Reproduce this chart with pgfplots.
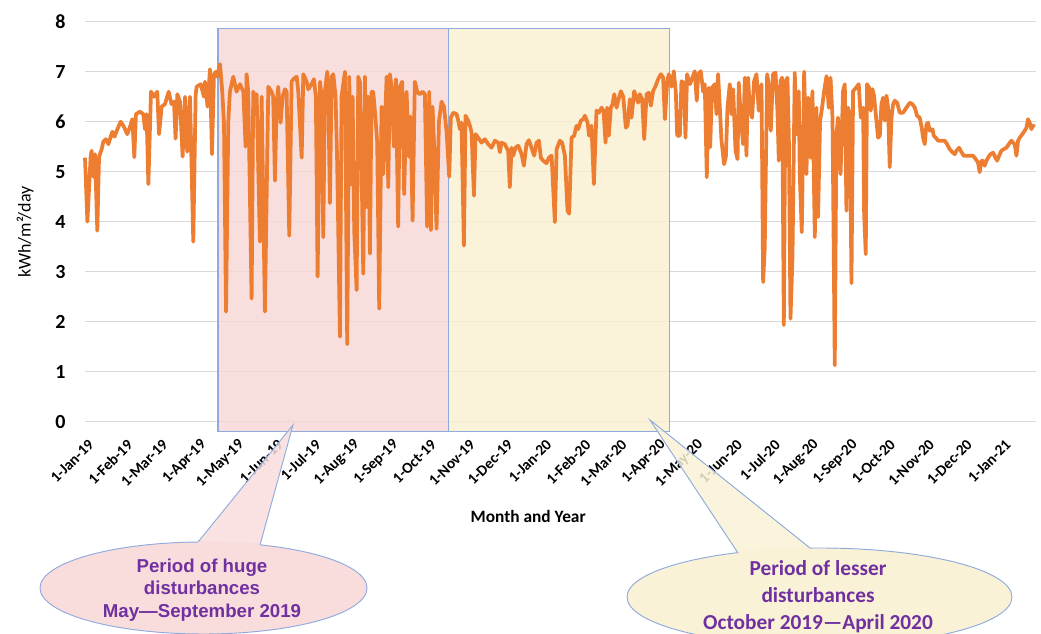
\documentclass[border=0pt]{standalone}
\usepackage{pgfplots}
\pgfplotsset{compat=1.18}
\usepackage{fontspec}
\setmainfont{Carlito}
\newfontfamily\libsans{Liberation Sans}
\definecolor{lineor}{RGB}{237,125,49}
\definecolor{pinkbox}{RGB}{248,214,214}
\definecolor{yelbox}{RGB}{249,239,208}
\definecolor{pinkell}{RGB}{249,221,221}
\definecolor{yelell}{RGB}{250,242,215}
\definecolor{boxblue}{RGB}{143,170,220}
\definecolor{purp}{RGB}{112,48,160}
\definecolor{gridg}{RGB}{217,217,217}
\begin{document}
\begin{tikzpicture}
\path[use as bounding box] (0,0) rectangle (780.75pt,475.5pt);
\begin{scope}
\clip (0,0) rectangle (780.75pt,475.5pt);
\begin{axis}[
  at={(63.75pt,159.225pt)}, anchor=south west,
  width=713.25pt, height=300pt, scale only axis,
  xmin=0, xmax=758, ymin=0, ymax=8,
  axis line style={draw=none},
  major tick length=0pt,
  ytick={0,1,2,3,4,5,6,7,8},
  xtick={0,31,59,90,120,151,181,212,243,273,304,334,365,396,425,456,486,517,547,578,609,639,670,700,731},
  xticklabels={1-Jan-19,1-Feb-19,1-Mar-19,1-Apr-19,1-May-19,1-Jun-19,1-Jul-19,1-Aug-19,1-Sep-19,1-Oct-19,1-Nov-19,1-Dec-19,1-Jan-20,1-Feb-20,1-Mar-20,1-Apr-20,1-May-20,1-Jun-20,1-Jul-20,1-Aug-20,1-Sep-20,1-Oct-20,1-Nov-20,1-Dec-20,1-Jan-21},
  ymajorgrids, grid style={gridg, line width=0.9pt},
  xticklabel style={xshift=7pt, yshift=-13pt, rotate=45, anchor=east, font=\bfseries\fontsize{11.5}{12}\selectfont},
  yticklabel style={font=\bfseries\fontsize{15}{15}\selectfont},
  /pgf/number format/assume math mode=true,
  yticklabel shift=11pt,
  clip=false,
  xlabel={Month and Year},
  ylabel={kWh/m²/day},
  xlabel style={at={(axis description cs:0.466,-0.238)}, anchor=center, font=\bfseries\fontsize{13}{13}\selectfont},
  ylabel style={at={(axis description cs:-0.063,0.474)}, anchor=center, font=\fontsize{13.5}{13.5}\selectfont},
]
\fill[pinkbox, fill opacity=0.8] (axis cs:106,-0.2) rectangle (axis cs:290,7.87);
\fill[yelbox, fill opacity=0.8] (axis cs:290,-0.2) rectangle (axis cs:466,7.87);
\draw[boxblue, line width=0.8pt] (axis cs:106,-0.2) rectangle (axis cs:290,7.87);
\draw[boxblue, line width=0.8pt] (axis cs:290,-0.2) rectangle (axis cs:466,7.87);
\addplot[lineor, line width=2.8pt, line join=round, no markers] table {
x y
0 5.28
1.9 4.0
4.5 5.3
5.3 5.42
6.6 4.9
8.0 5.35
9.8 3.82
11.2 5.3
13.3 5.45
14.6 5.6
16.7 5.65
18.6 5.55
21.8 5.8
23.6 5.7
25.8 5.85
28.4 6.0
31.0 5.9
33.7 5.75
35.9 5.9
37.7 6.05
39.3 5.29
40.6 6.15
43.8 6.2
46.5 6.15
47.8 5.85
49.1 6.15
50.5 4.75
52.6 6.6
55.0 6.5
57.6 6.6
59.0 5.75
61.1 6.3
63.7 6.35
66.7 6.6
69.0 6.35
70.9 6.4
72.2 5.66
73.6 6.55
75.7 6.4
77.8 5.3
79.7 6.5
81.5 5.4
83.7 6.5
86.3 3.6
88.2 6.55
89.0 6.7
92.2 6.75
94.8 6.5
95.6 6.8
97.7 6.3
99.6 7.05
101.2 5.35
102.8 6.95
104.4 7.0
105.4 6.9
107.6 7.15
109.4 6.6
110.8 5.95
112.4 2.2
114.2 6.0
115.5 6.6
118.2 6.9
120.8 6.6
123.5 6.75
126.2 6.6
128.0 5.5
128.8 6.95
130.1 6.6
132.8 2.46
134.1 6.6
135.5 6.5
136.8 6.55
139.4 3.6
140.8 6.5
143.4 2.2
146.1 6.7
148.7 6.6
150.0 6.5
151.4 4.82
152.7 6.3
154.0 6.7
155.9 5.98
157.5 6.5
159.4 6.65
160.7 6.6
162.8 3.72
164.7 6.8
166.0 6.85
168.7 6.9
170.0 6.6
172.7 5.28
174.0 6.95
176.6 6.8
178.0 6.65
180.6 6.75
182.5 6.85
184.0 6.5
185.4 2.9
187.3 6.8
188.6 6.5
189.9 3.69
191.2 6.6
193.1 7.0
193.9 6.6
195.2 4.37
196.6 6.9
197.9 6.95
199.7 6.5
201.0 5.19
203.2 1.7
204.5 6.5
207.2 7.0
209.0 1.55
210.6 6.9
212.0 4.75
213.3 6.5
214.6 3.8
216.5 2.63
217.8 6.9
219.1 6.8
220.5 5.0
221.8 2.96
223.1 6.9
224.5 4.29
225.7 6.5
227.1 3.36
228.4 6.6
229.7 6.6
231.1 6.2
232.9 5.6
234.5 2.26
236.4 6.3
237.7 4.95
240.4 6.9
241.7 4.69
243.0 6.95
244.4 6.7
246.2 5.5
247.8 6.85
249.6 3.9
251.0 6.7
252.8 6.8
254.4 4.55
256.3 6.6
258.2 5.3
259.5 6.1
261.1 4.02
262.9 6.8
264.8 6.6
266.9 6.55
269.1 6.6
270.9 6.55
272.7 3.9
274.4 6.6
275.7 3.83
277.0 6.3
278.3 5.5
280.2 3.86
282.1 6.0
284.2 6.4
286.1 6.3
288.2 5.8
290.3 4.9
291.6 6.08
293.5 6.18
296.2 6.15
297.5 6.02
298.8 5.85
300.1 5.98
302.0 3.52
303.3 6.12
305.4 6.02
306.8 5.92
308.1 5.79
310.0 4.52
311.3 5.75
313.4 5.68
316.1 5.58
318.7 5.65
321.4 5.55
324.0 5.48
326.7 5.62
329.3 5.58
330.7 5.39
332.0 5.58
334.7 5.55
336.0 5.48
337.3 5.42
338.6 4.69
340.0 5.48
341.3 5.32
343.2 5.48
345.3 5.52
348.0 5.35
349.8 5.12
351.9 5.55
353.8 5.63
355.9 5.48
358.0 5.32
359.9 5.58
361.8 5.62
363.3 5.28
365.2 5.22
367.9 5.17
369.7 5.28
371.9 5.32
374.5 3.99
375.9 5.45
378.5 5.62
380.3 5.58
382.5 5.32
384.6 4.22
385.9 4.16
387.8 5.68
389.9 5.72
391.8 5.92
393.1 5.85
395.2 6.02
397.1 6.05
398.4 6.12
400.6 5.98
401.8 5.72
403.7 5.92
405.6 4.75
407.7 6.22
409.6 6.18
411.7 6.28
413.3 6.22
414.9 5.58
416.2 6.28
417.5 5.72
419.1 6.28
420.5 6.35
421.8 6.55
423.7 6.28
425.0 6.42
427.1 6.61
429.0 6.5
431.1 5.88
432.4 5.92
434.3 6.45
435.6 6.08
437.7 6.61
439.6 6.48
440.9 6.38
442.2 6.55
444.1 6.45
445.7 5.65
447.6 6.55
449.4 6.58
451.0 6.32
452.8 6.61
454.7 6.71
456.8 6.85
459.0 6.95
460.8 6.88
462.2 6.05
464.0 6.78
465.3 6.95
467.5 6.7
469.3 7.01
470.9 6.6
472.0 5.72
474.1 5.72
475.4 6.81
477.3 6.78
478.6 5.68
479.9 6.95
482.1 6.75
484.2 6.88
486.0 7.01
487.6 6.42
488.7 6.95
490.8 7.01
492.7 6.6
494.0 6.75
495.6 4.89
497.2 6.68
498.3 5.49
499.8 6.68
502.0 6.75
503.3 6.15
504.6 6.95
506.0 6.28
507.3 5.62
509.4 5.15
510.8 5.3
512.1 6.28
513.9 6.75
515.3 6.15
516.6 6.65
518.5 5.42
520.1 5.25
521.1 6.78
522.7 6.08
524.5 5.55
525.9 6.88
527.2 5.32
528.5 6.88
529.9 6.28
531.7 6.08
533.3 6.81
535.2 6.95
537.0 6.22
539.2 6.75
540.5 2.79
541.8 3.49
543.7 6.95
545.0 6.75
546.6 5.82
548.4 6.95
550.4 6.98
551.9 6.22
553.0 5.22
554.3 6.81
555.6 6.88
557.0 1.93
558.3 6.81
559.9 6.88
561.0 5.68
562.3 2.06
563.9 3.29
565.7 6.98
567.3 5.75
568.9 6.61
569.7 4.95
571.3 3.79
573.2 7.0
575.0 4.95
576.4 6.48
578.2 5.28
579.8 6.61
581.7 3.69
583.0 6.28
584.3 4.09
585.9 6.02
587.5 6.28
589.1 6.61
591.0 6.91
592.8 6.28
594.2 6.88
595.8 6.08
597.6 1.13
598.9 5.72
600.2 6.08
602.2 4.95
604.2 6.61
605.6 6.75
606.9 4.22
608.2 6.28
609.6 6.15
610.9 2.77
612.2 6.61
614.9 6.69
616.7 6.75
618.3 6.08
620.2 6.28
621.0 4.16
622.3 3.35
623.3 6.75
625.0 6.68
626.3 6.22
627.6 6.65
628.9 6.52
630.3 6.15
632.1 5.68
633.5 5.72
634.8 6.35
636.1 6.48
637.5 6.02
638.8 6.52
640.1 6.28
641.4 5.09
642.8 6.08
644.1 6.35
645.4 6.42
647.3 6.38
649.4 6.18
652.0 6.18
654.7 6.28
657.4 6.38
659.5 6.35
661.4 6.28
663.2 6.12
665.3 6.08
666.9 5.88
668.0 5.68
669.3 5.55
670.7 5.95
672.0 5.98
673.3 5.82
675.5 5.85
676.5 5.72
678.1 5.68
680.0 5.62
683.4 5.62
685.3 5.62
687.1 5.55
689.2 5.45
691.4 5.39
693.2 5.35
694.6 5.42
696.7 5.48
698.6 5.39
700.4 5.32
705.2 5.32
707.8 5.32
710.0 5.25
711.8 5.18
713.1 4.99
714.5 5.22
715.8 5.22
717.1 5.12
718.5 5.22
719.8 5.28
721.7 5.35
723.8 5.38
725.7 5.28
727.0 5.22
728.6 5.32
730.4 5.42
732.3 5.45
734.4 5.48
737.1 5.58
738.4 5.62
739.7 5.58
741.0 5.55
742.4 5.32
743.7 5.62
745.0 5.68
747.1 5.75
749.0 5.82
750.4 5.88
751.6 6.05
753.0 5.98
754.3 5.85
755.6 5.92
757.0 5.9
};
\end{axis}
\end{scope}
\begin{scope}[shift={(0pt,475.5pt)}, x=0.75pt, y=-0.75pt]
\clip (0,0) rectangle (1041,634);
% pink callout
\fill[pinkell] (203.5,588) ellipse [x radius=163.5, y radius=46];
\draw[boxblue, line width=0.7pt] (203.5,588) ellipse [x radius=163.5, y radius=46];
\fill[pinkell, fill opacity=0.85] (293,425) -- (198,542) -- (260,545) -- cycle;
\fill[pinkell] (198,540.5) -- (260,543.5) -- (260,552) -- (198,549) -- cycle;
\draw[boxblue, line width=0.7pt] (198,542) -- (293,425) -- (260,545);
\node[align=center, text=purp, font=\libsans\bfseries\fontsize{14}{17}\selectfont] at (202,590) {Period of huge\\disturbances\\May—September 2019};
% yellow callout
\fill[yelell] (819.5,597) ellipse [x radius=192.5, y radius=49];
\draw[boxblue, line width=0.7pt] (819.5,597) ellipse [x radius=192.5, y radius=49];
\fill[yelell, fill opacity=0.85] (650,420) -- (738,553) -- (810,548) -- cycle;
\fill[yelell] (738,551.5) -- (810,546.5) -- (810,555) -- (738,560) -- cycle;
\draw[boxblue, line width=0.7pt] (738,553) -- (650,420) -- (810,548);
\node[align=center, text=purp, font=\bfseries\fontsize{16}{20.25}\selectfont] at (818,597) {Period of lesser\\disturbances\\October 2019—April 2020};
\end{scope}
\end{tikzpicture}
\end{document}
